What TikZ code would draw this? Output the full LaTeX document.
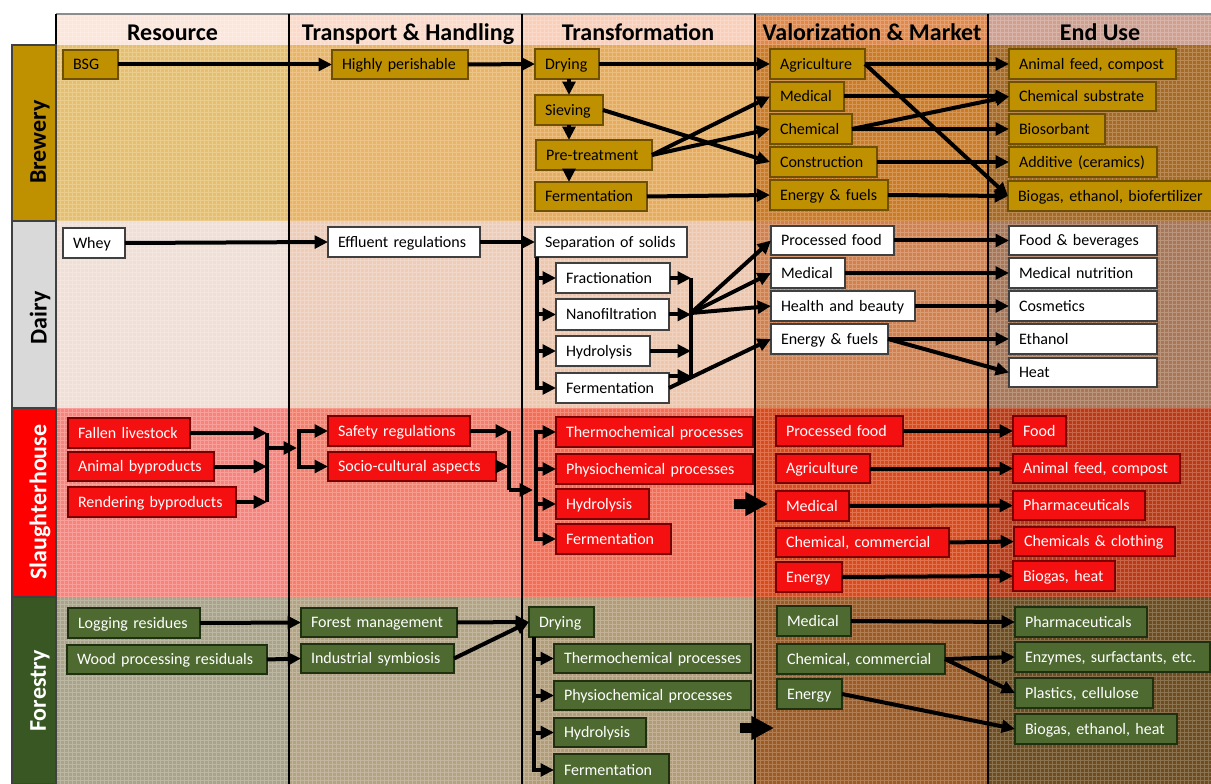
\documentclass[tikz,border=0pt]{standalone}
\usepackage{fontspec}
\setmainfont{Carlito}
\usetikzlibrary{arrows.meta,calc}
\definecolor{brA}{HTML}{E5BE6E}\definecolor{brB}{HTML}{E9B466}\definecolor{brC}{HTML}{E6AC5C}\definecolor{brD}{HTML}{CD7A24}\definecolor{brE}{HTML}{A66A24}
\definecolor{daA}{HTML}{EFDFD7}\definecolor{daB}{HTML}{EECDB8}\definecolor{daC}{HTML}{EEC6AC}\definecolor{daD}{HTML}{D2814E}\definecolor{daE}{HTML}{A87658}
\definecolor{slA}{HTML}{F6847C}\definecolor{slB}{HTML}{F57F6E}\definecolor{slC}{HTML}{F46E56}\definecolor{slD}{HTML}{DA4B1C}\definecolor{slE}{HTML}{BB3A16}
\definecolor{frA}{HTML}{A9A489}\definecolor{frB}{HTML}{B2A383}\definecolor{frC}{HTML}{B19C78}\definecolor{frD}{HTML}{9C5A24}\definecolor{frE}{HTML}{6C4C20}
\definecolor{hA}{HTML}{FCE6DA}\definecolor{hB}{HTML}{FBDACA}\definecolor{hC}{HTML}{F9CFBA}\definecolor{hD}{HTML}{E2894A}\definecolor{hE}{HTML}{CFA090}
\definecolor{brbox}{HTML}{BF9000}\definecolor{brdraw}{HTML}{6F5000}
\definecolor{dadraw}{HTML}{404040}
\definecolor{slbox}{HTML}{F41010}\definecolor{sldraw}{HTML}{7A0000}
\definecolor{frbox}{HTML}{4E6A31}\definecolor{frdraw}{HTML}{1E3010}
\definecolor{labbr}{HTML}{BF9000}\definecolor{labda}{HTML}{D9D9D9}\definecolor{labsl}{HTML}{FF0000}\definecolor{labfr}{HTML}{385723}
\newcommand\BX[7]{%
  \pgfmathsetmacro\bxw{(#5-#3)*0.75-15}%
  \pgfmathsetmacro\bxh{(#6-#4)*0.75}%
  \pgfmathsetmacro\bxy{(#4+#6)/2}%
  \node[#1, text width=\bxw pt, minimum height=\bxh pt, anchor=west] (#2) at (#3,\bxy) {\mbox{#7}};%
}
\begin{document}
\begin{tikzpicture}[x=0.75pt,y=-0.75pt,
  box/.style={draw, line width=0.8pt, inner xsep=7.5pt, inner ysep=0pt, outer sep=0pt, font=\fontsize{12}{14}\selectfont, align=left, text height=10pt, text depth=2.4pt},
  brw/.style={box, fill=brbox, draw=brdraw, text=black},
  dai/.style={box, fill=white, draw=dadraw, text=black},
  sla/.style={box, fill=slbox, draw=sldraw, text=white},
  frs/.style={box, fill=frbox, draw=frdraw, text=white},
  ar/.style={line width=3pt, -{Triangle[length=10pt,width=9.5pt]}},
  ln/.style={line width=3pt},
  bigar/.style={line width=7.5pt, -{Triangle[length=17pt,width=17pt]}},
  hdr/.style={font=\fontsize{18}{20}\selectfont\bfseries, anchor=base},
  rowlab/.style={font=\fontsize{18}{20}\selectfont\bfseries, rotate=90},
  labbox/.style={draw=black!75, line width=0.8pt}
]
\useasboundingbox (0,0) rectangle (1211,784);
\clip (0,0) rectangle (1211,784);
\fill[white] (0,0) rectangle (1211,784);
% header cells
\fill[hA] (56,14) rectangle (289,45);
\fill[hB] (289,14) rectangle (522,45);
\fill[hC] (522,14) rectangle (755,45);
\fill[hD] (755,14) rectangle (988,45);
\fill[hE] (988,14) rectangle (1211,45);
% brewery
\fill[brA] (56,45) rectangle (289,221);
\fill[brB] (289,45) rectangle (522,221);
\fill[brC] (522,45) rectangle (755,221);
\fill[brD] (755,45) rectangle (988,221);
\fill[brE] (988,45) rectangle (1211,221);
% dairy
\fill[daA] (56,221) rectangle (289,408);
\fill[daB] (289,221) rectangle (522,408);
\fill[daC] (522,221) rectangle (755,408);
\fill[daD] (755,221) rectangle (988,408);
\fill[daE] (988,221) rectangle (1211,408);
% slaughterhouse
\fill[slA] (56,408) rectangle (289,597);
\fill[slB] (289,408) rectangle (522,597);
\fill[slC] (522,408) rectangle (755,597);
\fill[slD] (755,408) rectangle (988,597);
\fill[slE] (988,408) rectangle (1211,597);
% forestry
\fill[frA] (56,597) rectangle (289,784);
\fill[frB] (289,597) rectangle (522,784);
\fill[frC] (522,597) rectangle (755,784);
\fill[frD] (755,597) rectangle (988,784);
\fill[frE] (988,597) rectangle (1211,784);
% texture
\draw[white, opacity=0.22, line width=0.35pt, step=3pt] (56,14) grid (1211,784);
% lines
\draw[black!45, line width=0.8pt] (56,14) -- (1211,14);
\foreach \xx in {56,289,522,755,988} {\draw[line width=0.8pt] (\xx,14) -- (\xx,784);}
% headers
\node[hdr] (hres) at (172.5,41) {Resource};
\node[hdr] (htra) at (408,41) {Transport \& Handling};
\node[hdr] (htrf) at (638,41) {Transformation};
\node[hdr] (hval) at (872,41) {Valorization \& Market};
\node[hdr] (hend) at (1100,41) {End Use};
% row labels
\fill[labbr] (12,45) rectangle (56,221); \draw[labbox] (12,45) rectangle (56,221);
\fill[labda] (12,221) rectangle (56,408); \draw[labbox] (12,221) rectangle (56,408);
\fill[labsl] (12,408) rectangle (56,597); \draw[labbox] (12,408) rectangle (56,597);
\fill[labfr] (12,597) rectangle (56,784); \draw[labbox] (12,597) rectangle (56,784);
\node[rowlab, text=black] (lbr) at (40,142) {Brewery};
\node[rowlab, text=black] (lda) at (40,318) {Dairy};
\node[rowlab, text=white] (lsl) at (40,502) {Slaughterhouse};
\node[rowlab, text=white] (lfr) at (40,691) {Forestry};

% ================= Brewery =================
\BX{brw}{bsg}{63}{50}{118}{79}{BSG}
\BX{brw}{hp}{332}{50}{468}{79}{Highly perishable}
\BX{brw}{dry}{535}{49}{599}{79}{Drying}
\BX{brw}{siev}{535}{95}{603}{125}{Sieving}
\BX{brw}{pre}{536}{140}{652}{170}{Pre-treatment}
\BX{brw}{ferm}{535}{182}{647}{211}{Fermentation}
\BX{brw}{agri}{770}{49}{865}{79}{Agriculture}
\BX{brw}{med}{770}{82}{844}{111}{Medical}
\BX{brw}{chem}{770}{114}{852}{144}{Chemical}
\BX{brw}{cons}{770}{147}{877}{177}{Construction}
\BX{brw}{ener}{770}{180}{888}{210}{Energy \& fuels}
\BX{brw}{afc}{1009}{49}{1176}{79}{Animal feed, compost}
\BX{brw}{chs}{1009}{82}{1156}{111}{Chemical substrate}
\BX{brw}{bios}{1009}{114}{1105}{144}{Biosorbant}
\BX{brw}{addi}{1009}{147}{1157}{177}{Additive (ceramics)}
\BX{brw}{biog}{1008}{181}{1215}{211}{Biogas, ethanol, biofertilizer}
\draw[ar] (bsg.east) -- (hp.west);
\draw[ar] (hp.east) -- (dry.west);
\draw[ar] (dry.east) -- (agri.west);
\draw[ar] (dry.south -| siev.south) -- (siev.north);
\draw[ar] (siev.south) -- (siev.south |- pre.north);
\draw[ar] (pre.south -| siev.south) -- (ferm.north -| siev.south);
\draw[ar] (siev.east) -- (cons.west);
\draw[ar] (pre.east) -- (med.west);
\draw[ar] (pre.east) -- (chem.west);
\draw[ar] (ferm.east) -- (ener.west);
\draw[ar] (agri.east) -- (afc.west);
\draw[ar] (agri.east) -- (biog.west);
\draw[ar] (med.east) -- (chs.west);
\draw[ar] (chem.east) -- (chs.west);
\draw[ar] (chem.east) -- (bios.west);
\draw[ar] (cons.east) -- (addi.west);
\draw[ar] (ener.east) -- (biog.west);

% ================= Dairy =================
\BX{dai}{whey}{63}{228}{125}{258}{Whey}
\BX{dai}{eff}{328}{227}{480}{257}{Effluent regulations}
\BX{dai}{sep}{535}{227}{687}{257}{Separation of solids}
\BX{dai}{fra}{556}{263}{670}{293}{Fractionation}
\BX{dai}{nano}{556}{299}{669}{330}{Nanofiltration}
\BX{dai}{dhyd}{556}{336}{650}{366}{Hydrolysis}
\BX{dai}{dfer}{556}{373}{669}{403}{Fermentation}
\BX{dai}{proc}{771}{226}{894}{255}{Processed food}
\BX{dai}{dmed}{771}{258}{845}{288}{Medical}
\BX{dai}{hb}{771}{291}{915}{321}{Health and beauty}
\BX{dai}{den}{771}{324}{888}{354}{Energy \& fuels}
\BX{dai}{fb}{1009}{226}{1157}{255}{Food \& beverages}
\BX{dai}{mn}{1009}{258}{1157}{288}{Medical nutrition}
\BX{dai}{cosm}{1009}{291}{1157}{321}{Cosmetics}
\BX{dai}{eth}{1009}{324}{1157}{354}{Ethanol}
\BX{dai}{heat}{1009}{358}{1157}{387}{Heat}
\draw[ar] (whey.east) -- (eff.west);
\draw[ar] (eff.east) -- (sep.west);
\draw[ar] ([xshift=1.5pt]sep.south west) |- (fra.west);
\draw[ar] ([xshift=1.5pt]sep.south west) |- (nano.west);
\draw[ar] ([xshift=1.5pt]sep.south west) |- (dhyd.west);
\draw[ar] ([xshift=1.5pt]sep.south west) |- (dfer.west);
\coordinate (dcol) at (691,313);
\coordinate (dfe2) at ([yshift=9pt]dfer.east);
\draw[ar] (fra.east) -- (fra.east -| dcol);
\draw[ar] (nano.east) -- (nano.east -| dcol);
\draw[ar] (dhyd.east) -- (dhyd.east -| dcol);
\draw[ar] (dfe2) -- (dfe2 -| dcol);
\draw[ln] (dcol |- fra.east) -- (dcol |- dfe2);
\draw[ar] (dcol) -- (proc.west);
\draw[ar] (dcol) -- (dmed.west);
\draw[ar] (dcol) -- (hb.west);
\draw[ar] (dfer.east) -- (den.west);
\draw[ar] (proc.east) -- (fb.west);
\draw[ar] (dmed.east) -- (mn.west);
\draw[ar] (hb.east) -- (cosm.west);
\draw[ar] (den.east) -- (eth.west);
\draw[ar] (den.east) -- (heat.west);

% ================= Slaughterhouse =================
\BX{sla}{fl}{68}{418}{190}{448}{Fallen livestock}
\BX{sla}{ab}{68}{452}{214}{481}{Animal byproducts}
\BX{sla}{rb}{68}{487}{236}{517}{Rendering byproducts}
\BX{sla}{safe}{328}{416}{470}{446}{Safety regulations}
\BX{sla}{soc}{328}{452}{496}{481}{Socio-cultural aspects}
\BX{sla}{sth}{556}{417}{753}{447}{Thermochemical processes}
\BX{sla}{sph}{556}{454}{753}{484}{Physiochemical processes}
\BX{sla}{shy}{556}{489}{649}{519}{Hydrolysis}
\BX{sla}{sfe}{556}{524}{671}{554}{Fermentation}
\BX{sla}{spf}{776}{416}{903}{446}{Processed food}
\BX{sla}{sag}{776}{454}{870}{483}{Agriculture}
\BX{sla}{smd}{776}{491}{849}{521}{Medical}
\BX{sla}{scc}{776}{528}{949}{557}{Chemical, commercial}
\BX{sla}{sen}{776}{562}{842}{592}{Energy}
\BX{sla}{sfood}{1013}{416}{1066}{446}{Food}
\BX{sla}{safc}{1013}{454}{1180}{483}{Animal feed, compost}
\BX{sla}{sphm}{1013}{491}{1145}{520}{Pharmaceuticals}
\BX{sla}{scl}{1014}{527}{1175}{556}{Chemicals \& clothing}
\BX{sla}{sbh}{1013}{561}{1115}{591}{Biogas, heat}
\coordinate (scol) at (267,448);
\draw[ar] (fl.east) -- (fl.east -| scol);
\draw[ar] (ab.east) -- (ab.east -| scol);
\draw[ar] (rb.east) -- (rb.east -| scol);
\draw[ln] (scol |- fl.east) -- (scol |- rb.east);
\coordinate (sbrt) at (297,448);
\coordinate (sbr) at (299,448);
\draw[ar] (scol) -- (sbrt);
\draw[ar] (sbr) |- (safe.west);
\draw[ar] (sbr) |- (soc.west);
\coordinate (sj) at (509,490);
\draw[ar] (safe.east) -- (safe.east -| sj);
\draw[ar] (soc.east) -- (soc.east -| sj);
\draw[ln] (sj |- safe.east) -- (sj);
\coordinate (sbr2t) at (533,490);
\coordinate (sbr2) at (536,490);
\draw[ar] (sj) -- (sbr2t);
\draw[ar] (sbr2) |- (sth.west);
\draw[ar] (sbr2) |- (sph.west);
\draw[ar] (sbr2) |- (shy.west);
\draw[ar] (sbr2) |- (sfe.west);
\coordinate (ba1s) at (734,504);
\coordinate (ba1e) at (768,504);
\draw[bigar] (ba1s) -- (ba1e);
\draw[ar] (spf.east) -- (sfood.west);
\draw[ar] (sag.east) -- (safc.west);
\draw[ar] (smd.east) -- (sphm.west);
\draw[ar] (scc.east) -- (scl.west);
\draw[ar] (sen.east) -- (sbh.west);

% ================= Forestry =================
\BX{frs}{log}{68}{608}{200}{638}{Logging residues}
\BX{frs}{wood}{67}{645}{267}{674}{Wood processing residuals}
\BX{frs}{fm}{301}{608}{457}{637}{Forest management}
\BX{frs}{isy}{301}{644}{454}{673}{Industrial symbiosis}
\BX{frs}{fdry}{529}{607}{594}{637}{Drying}
\BX{frs}{fth}{554}{644}{751}{673}{Thermochemical processes}
\BX{frs}{fph}{554}{681}{751}{710}{Physiochemical processes}
\BX{frs}{fhy}{554}{718}{646}{747}{Hydrolysis}
\BX{frs}{ffe}{554}{754}{669}{786}{Fermentation}
\BX{frs}{fmd}{777}{606}{851}{636}{Medical}
\BX{frs}{fcc}{777}{644}{945}{674}{Chemical, commercial}
\BX{frs}{fen}{777}{679}{842}{709}{Energy}
\BX{frs}{fphm}{1015}{607}{1147}{637}{Pharmaceuticals}
\BX{frs}{enz}{1015}{642}{1210}{672}{Enzymes, surfactants, etc.}
\BX{frs}{pla}{1015}{678}{1153}{708}{Plastics, cellulose}
\BX{frs}{fbio}{1015}{714}{1177}{744}{Biogas, ethanol, heat}
\draw[ar] (log.east) -- (fm.west);
\draw[ar] (wood.east) -- (isy.west);
\draw[ar] (fm.east) -- (fdry.west);
\draw[ar] (isy.east) -- (fdry.west);
\draw[ar] ([xshift=3.75pt]fdry.south west) |- (fth.west);
\draw[ar] ([xshift=3.75pt]fdry.south west) |- (fph.west);
\draw[ar] ([xshift=3.75pt]fdry.south west) |- (fhy.west);
\draw[ar] ([xshift=3.75pt]fdry.south west) |- (ffe.west);
\coordinate (ba2s) at (740,728);
\coordinate (ba2e) at (774,728);
\draw[bigar] (ba2s) -- (ba2e);
\draw[ar] (fmd.east) -- (fphm.west);
\draw[ar] (fcc.east) -- (enz.west);
\draw[ar] (fcc.east) -- (pla.west);
\draw[ar] (fen.east) -- (fbio.west);
\end{tikzpicture}
\end{document}
